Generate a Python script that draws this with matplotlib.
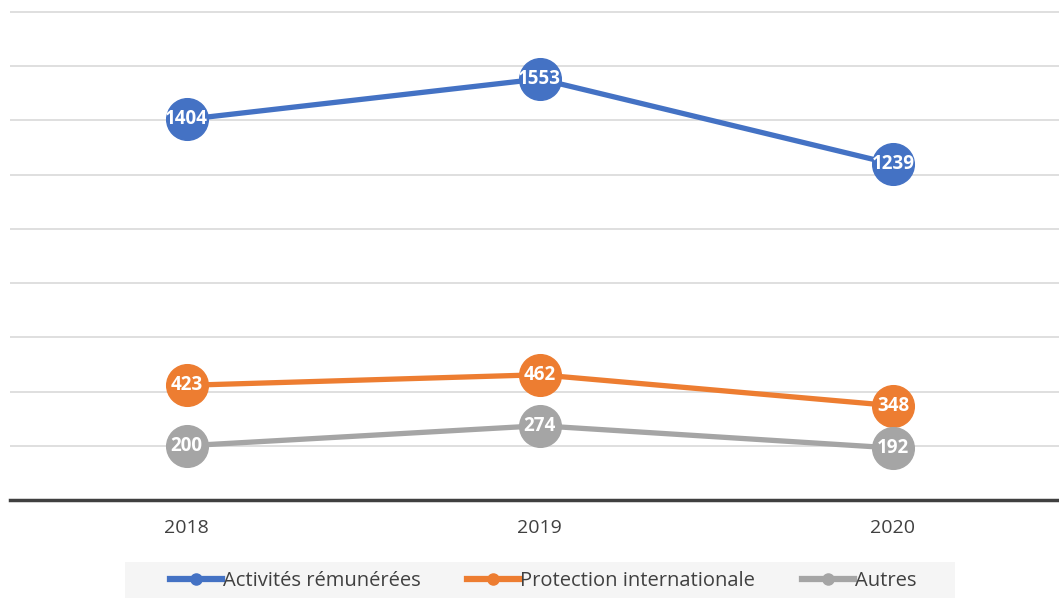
import matplotlib.pyplot as plt
from matplotlib.patches import Rectangle

# Data
years = ['2018', '2019', '2020']
activites = [1404, 1553, 1239]
protection = [423, 462, 348]
autres = [200, 274, 192]

series = [
    ('Activités rémunérées', activites, '#4472C4'),
    ('Protection internationale', protection, '#ED7D31'),
    ('Autres', autres, '#A5A5A5'),
]

plt.rcParams['font.family'] = ['Open Sans', 'DejaVu Sans']

W, H = 1059, 598
fig = plt.figure(figsize=(W / 100, H / 100), dpi=100)
# plot area runs past the right edge (cropped like the original)
ax = fig.add_axes([10 / W, 1 - 500 / H, 1059.5 / W, 500 / H])

x = list(range(len(years)))
handles = []
for name, vals, color in series:
    ax.plot(x, vals, color=color, lw=3.8, solid_capstyle='round', zorder=3)
    ax.plot(x, vals, 'o', color=color, ms=30, zorder=4)
    h, = ax.plot([], [], color=color, lw=4.5, marker='o', ms=8, label=name)
    handles.append(h)
    for xi, v in zip(x, vals):
        ax.text(xi, v, str(v), color='white', fontsize=13.5, fontweight='bold',
                ha='center', va='center', zorder=5)

ax.set_xlim(-0.5, 2.5)
ax.set_ylim(0, 1800 * 500 / 488)
ax.set_yticks(range(200, 2000, 200))
ax.yaxis.grid(True, color='#d9d9d9', lw=1.2)
ax.set_axisbelow(True)
ax.tick_params(axis='y', left=False, labelleft=False)
ax.set_xticks(x)
ax.set_xticklabels(years, fontsize=14, color='#404040')
ax.tick_params(axis='x', length=0, pad=14)
for s in ['top', 'right', 'left']:
    ax.spines[s].set_visible(False)
ax.spines['bottom'].set_color('#404040')
ax.spines['bottom'].set_linewidth(2.5)

# legend background band
fig.patches.append(Rectangle((125 / W, 0), 830 / W, 36 / H, transform=fig.transFigure,
                             facecolor='#f5f5f5', edgecolor='none', zorder=0))
leg = fig.legend(handles=handles, loc='center', bbox_to_anchor=(543 / W, 1 - 581 / H),
                 ncol=3, frameon=False, fontsize=14.5, handlelength=2.6, handletextpad=0.05,
                 columnspacing=2.3)
for t in leg.get_texts():
    t.set_color('#404040')

fig.savefig('out.png', dpi=100)
